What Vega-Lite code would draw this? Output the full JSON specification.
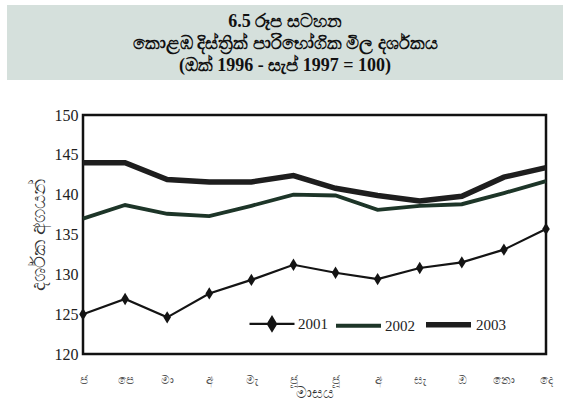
{
  "$schema": "https://vega.github.io/schema/vega-lite/v6.json",
  "background": "white",
  "padding": {"left": 7, "top": 5, "right": 7, "bottom": 5},
  "spacing": 25,
  "config": {"view": {"stroke": null}},
  "datasets": {
    "titles": [
      {"line": 1, "text": "6.5 රූප සටහන"},
      {"line": 2, "text": "කොළඹ දිස්ත්‍රික් පාරිභෝගික මිල දර්ශකය"},
      {"line": 3, "text": "(ඔක් 1996 - සැප් 1997 = 100)"}
    ],
    "cpi": [
      {"year": "2001", "m": 1, "value": 125.0},
      {"year": "2001", "m": 2, "value": 126.9},
      {"year": "2001", "m": 3, "value": 124.6},
      {"year": "2001", "m": 4, "value": 127.6},
      {"year": "2001", "m": 5, "value": 129.3},
      {"year": "2001", "m": 6, "value": 131.2},
      {"year": "2001", "m": 7, "value": 130.2},
      {"year": "2001", "m": 8, "value": 129.4},
      {"year": "2001", "m": 9, "value": 130.8},
      {"year": "2001", "m": 10, "value": 131.5},
      {"year": "2001", "m": 11, "value": 133.1},
      {"year": "2001", "m": 12, "value": 135.7},
      {"year": "2002", "m": 1, "value": 137.0},
      {"year": "2002", "m": 2, "value": 138.7},
      {"year": "2002", "m": 3, "value": 137.6},
      {"year": "2002", "m": 4, "value": 137.3},
      {"year": "2002", "m": 5, "value": 138.6},
      {"year": "2002", "m": 6, "value": 140.0},
      {"year": "2002", "m": 7, "value": 139.9},
      {"year": "2002", "m": 8, "value": 138.1},
      {"year": "2002", "m": 9, "value": 138.6},
      {"year": "2002", "m": 10, "value": 138.8},
      {"year": "2002", "m": 11, "value": 140.2},
      {"year": "2002", "m": 12, "value": 141.7},
      {"year": "2003", "m": 1, "value": 144.0},
      {"year": "2003", "m": 2, "value": 144.0},
      {"year": "2003", "m": 3, "value": 141.9},
      {"year": "2003", "m": 4, "value": 141.6},
      {"year": "2003", "m": 5, "value": 141.6},
      {"year": "2003", "m": 6, "value": 142.4},
      {"year": "2003", "m": 7, "value": 140.8},
      {"year": "2003", "m": 8, "value": 139.9},
      {"year": "2003", "m": 9, "value": 139.2},
      {"year": "2003", "m": 10, "value": 139.8},
      {"year": "2003", "m": 11, "value": 142.2},
      {"year": "2003", "m": 12, "value": 143.4}
    ]
  },
  "vconcat": [
    {
      "width": 556,
      "height": 75,
      "view": {"fill": "#d5e0dc", "stroke": null},
      "data": {"name": "titles"},
      "mark": {"type": "text", "font": "Liberation Serif", "fontWeight": "bold", "fontSize": 18, "color": "#111", "baseline": "middle", "align": "center"},
      "encoding": {
        "y": {"field": "line", "type": "quantitative", "scale": {"domain": [0.2, 3.66], "reverse": true}, "axis": null},
        "text": {"field": "text", "type": "nominal"}
      }
    },
    {
      "spacing": 0,
      "hconcat": [
        {
          "width": 19,
          "height": 239,
          "data": {"values": [{"pad": 0}]},
          "mark": {"type": "point", "opacity": 0}
        },
        {
          "width": 463,
          "height": 239,
          "view": {"stroke": "#111", "strokeWidth": 2.5, "fill": "white"},
          "data": {"name": "cpi"},
          "encoding": {
            "x": {
              "field": "m", "type": "quantitative",
              "scale": {"domain": [1, 12], "nice": false},
              "axis": {
                "values": [1, 2, 3, 4, 5, 6, 7, 8, 9, 10, 11, 12],
                "labelExpr": "['ජ','පෙ','මා','අ','මැ','ජූ','ජූ','අ','සැ','ඔ','නො','දෙ'][datum.value - 1]",
                "title": "මාසය",
                "grid": false, "ticks": false, "domain": false,
                "labelFont": "Noto Sans", "labelFontSize": 12, "labelColor": "#555",
                "labelPadding": 20, "labelFlush": false,
                "titleFont": "Noto Sans", "titleFontSize": 15, "titleFontWeight": "normal", "titleColor": "#333", "titlePadding": 0
              }
            },
            "y": {
              "field": "value", "type": "quantitative",
              "scale": {"domain": [120, 150], "nice": false, "zero": false},
              "axis": {
                "values": [120, 125, 130, 135, 140, 145, 150],
                "title": "දර්ශක අගයන්",
                "grid": false, "ticks": false, "domain": false,
                "labelFont": "Liberation Serif", "labelFontSize": 16, "labelColor": "#222", "labelPadding": 5,
                "titleFont": "Noto Sans", "titleFontSize": 20, "titleFontWeight": "normal", "titleColor": "#333", "titlePadding": 6
              }
            }
          },
          "layer": [
            {
              "mark": {"type": "line", "strokeJoin": "miter"},
              "encoding": {
                "color": {
                  "field": "year", "type": "ordinal",
                  "scale": {"domain": ["2001", "2002", "2003"], "range": ["#141414", "#1d3528", "#1e1e1e"]},
                  "legend": {
                    "orient": "none", "direction": "horizontal", "legendX": 241, "legendY": 294,
                    "title": null, "symbolSize": 2025, "symbolType": "stroke",
                    "labelFont": "Liberation Serif", "labelFontSize": 15, "labelColor": "#222",
                    "labelOffset": 2, "columnPadding": 0,
                    "encode": {
                      "symbols": {
                        "update": {
                          "shape": {"signal": "datum.value == '2001' ? 'M-1,0H1M-0.18,0L0,-0.3L0.18,0L0,0.3Z' : 'stroke'"},
                          "strokeWidth": {"signal": "datum.value == '2001' ? 2.2 : 5.5"},
                          "fill": {"value": "#141414"}
                        }
                      }
                    }
                  }
                },
                "strokeWidth": {
                  "field": "year", "type": "ordinal",
                  "scale": {"domain": ["2001", "2002", "2003"], "range": [2.2, 5.5, 5.5]},
                  "legend": null
                }
              }
            },
            {
              "transform": [{"filter": "datum.year == '2001'"}],
              "mark": {"type": "point", "shape": "M0,-1.3L0.8,0L0,1.3L-0.8,0Z", "filled": true, "size": 90, "color": "#141414", "opacity": 1}
            }
          ]
        }
      ]
    }
  ]
}
